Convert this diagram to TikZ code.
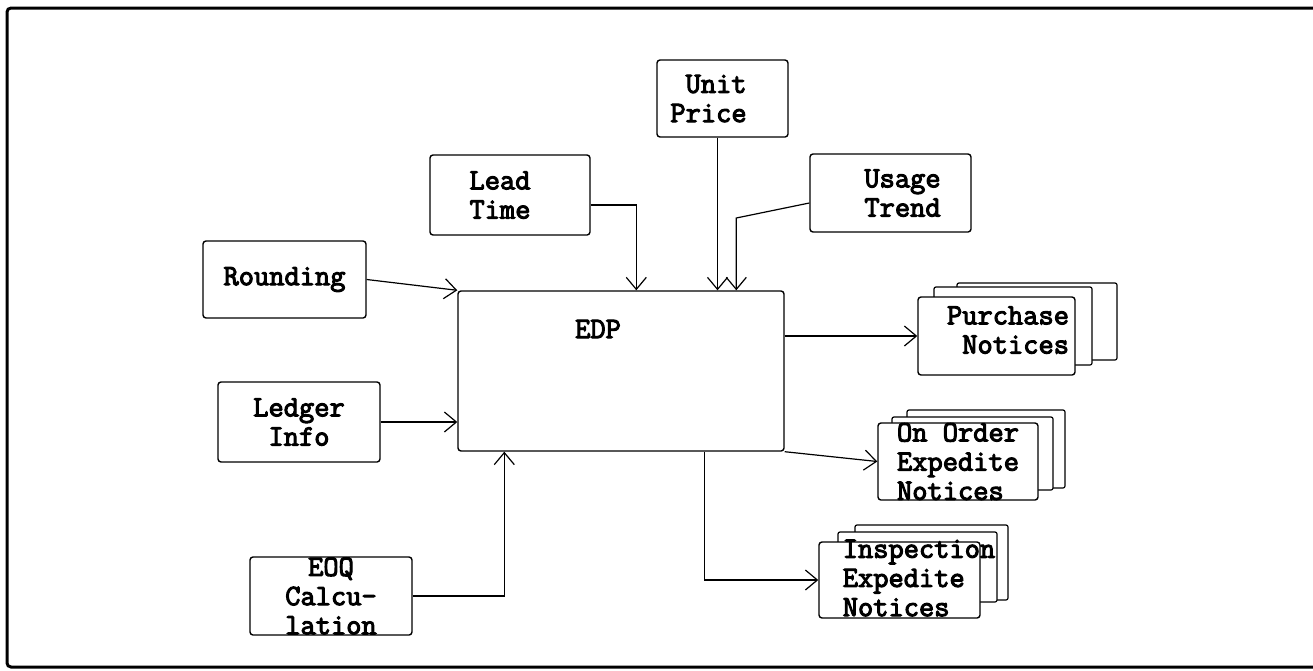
\documentclass[tikz,border=0pt]{standalone}
\usepackage{fontspec}
\usetikzlibrary{arrows.meta}
\newfontfamily\twfont{Latin Modern Mono}[FakeBold=3.5]
\newcommand\twtext{\twfont\fontsize{14.8}{14.6}\selectfont}
\tikzset{
  sz/.style 2 args={minimum width=#1*0.5pt, minimum height=#2*0.5pt},
  box/.style={draw, line width=0.7pt, rounded corners=1.5pt, fill=white, inner sep=0pt,
    align=center, font=\twtext},
  backbox/.style={draw, line width=0.6pt, rounded corners=1pt, fill=white, inner sep=0pt},
  txt/.style={inner sep=0pt, align=center, font=\twtext},
  conn/.style={line width=0.6pt, ->},
  >={Straight Barb[length=6pt,width=10pt]},
  frame/.style={line width=1.5pt, rounded corners=2pt}
}
\begin{document}
\begin{tikzpicture}[x=0.5pt,y=-0.5pt]
\useasboundingbox (0,0) rectangle (1313,670);
\draw[frame] (1313,8) -- (7,8) -- (7,667) -- (1313,667);

% input boxes
\node[box, sz={131}{77}, label={[txt,align=right,xshift=-7pt]center:{Unit\\Price}}] (unit) at (722.5,98.5) {};
\node[box, sz={160}{80}, label={[txt,xshift=-5pt]center:{Lead\\Time}}] (lead) at (510,195) {};
\node[box, sz={161}{78}, label={[txt,xshift=6pt]center:{Usage\\Trend}}] (usage) at (890.5,193) {};
\node[box, sz={163}{77}] (round) at (284.5,279.5) {Rounding};
\node[box, sz={162}{80}] (ledger) at (299,422) {Ledger\\Info};
\node[box, sz={162}{78}] (eoq) at (331,596) {EOQ\\Calcu-\\lation};

% EDP
\node[box, sz={326}{160}, label={[txt,xshift=-11.5pt,yshift=21pt]center:EDP}] (edp) at (621,371) {};

% Purchase notices stack
\node[backbox, sz={160}{77}] (pb3) at (1037,321.5) {};
\node[backbox, sz={158}{78}] (pb2) at (1013,326) {};
\node[box, sz={157}{78}, label={[txt,align=right,xshift=5.75pt,yshift=3pt]center:{Purchase\\Notices}}] (pf) at (996.5,336) {};

% On order stack
\node[backbox, sz={158}{78}] (oo3) at (986,449) {};
\node[backbox, sz={161}{73}] (oo2) at (972.5,453.5) {};
\node[box, sz={160}{77}, align=left] (oof) at (958,461.5) {On Order\\Expedite\\Notices};

% Inspection stack
\node[backbox, sz={153}{75}] (in3) at (931.5,562.5) {};
\node[backbox, sz={159}{70}] (in2) at (917.5,567) {};
\node[box, sz={161}{76}, label={[txt,align=left,xshift=9.75pt,yshift=1pt]center:{Inspection\\Expedite\\Notices}}] (inf) at (899.5,580) {};

% connectors
\draw[conn] (round.east) -- (edp.north west);
\draw[conn] ([yshift=-5pt]lead.east) -| ([xshift=89.5pt]edp.north west);
\draw[conn] ([xshift=-2.5pt]unit.south) -- ([xshift=-2.5pt]unit.south |- edp.north);
\draw[conn] ([yshift=-5pt]usage.west) -- ++(-73,15) coordinate (ub) -- (ub |- edp.north);
\draw[conn] (ledger.east) -- (ledger.east -| edp.west);
\draw[conn] (eoq.east) -| ([xshift=23.5pt]edp.south west);
\draw[conn] (pf.west -| edp.east) -- (pf.west);
\draw[conn] (edp.south east) -- (oof.west);
\draw[conn] ([xshift=123.5pt]edp.south west) |- (inf.west);
\end{tikzpicture}
\end{document}
